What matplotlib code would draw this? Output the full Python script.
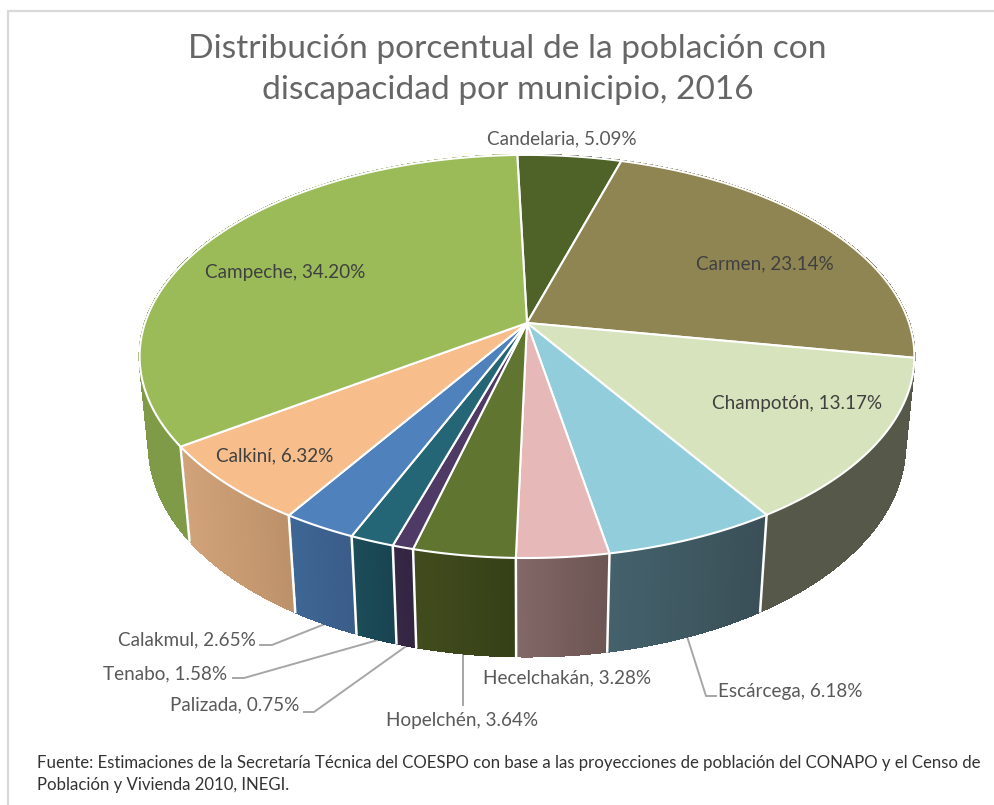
import numpy as np
import matplotlib
matplotlib.use('Agg')
import matplotlib.pyplot as plt
from matplotlib.collections import PolyCollection
from matplotlib.colors import to_rgb
from matplotlib.patches import Polygon

# Data, clockwise from the top of the pie
municipios = ['Candelaria', 'Carmen', 'Champotón', 'Escárcega', 'Hecelchakán',
              'Hopelchén', 'Palizada', 'Tenabo', 'Calakmul', 'Calkiní', 'Campeche']
valores = [5.09, 23.14, 13.17, 6.18, 3.28, 3.64, 0.75, 1.58, 2.65, 6.32, 34.20]
colores = ['#4F6228', '#8F8552', '#D7E3BC', '#92CDDC', '#E6B8B7', '#5F7530',
           '#4F3A66', '#246676', '#4F81BD', '#F7BD8B', '#9BBB59']
lado_izq = ['#3E4D20', '#6F6840', '#56584A', '#44626C', '#846868', '#414C1E',
            '#372845', '#1C4D59', '#3E6795', '#D2A37B', '#7F9B48']
lado_der = ['#3E4D20', '#6F6840', '#56584A', '#3A4F57', '#6C5553', '#364017',
            '#322542', '#184450', '#3A5C88', '#BC9169', '#7F9B48']

# Label text centres and leader lines (pixels)
etiquetas_pos = [(562, 139), (765, 264), (797, 403), (790, 691), (567, 678),
                 (462, 720), (235, 705), (165, 674), (187, 640), (275, 456), (285, 272)]
lineas = {'Calakmul': [(260, 645), (272, 645), (330, 622)],
          'Tenabo': [(233, 678), (244, 678), (385, 638)],
          'Palizada': [(304, 712), (314, 712), (412, 642)],
          'Hopelchén': [(463, 705), (463, 650)],
          'Escárcega': [(716, 696), (706, 696), (685, 630)]}

CX, CY = 527, 323
R, B, ALTO = 382, 196, 90
K, K_Z = 0.166, 0.024
INICIO = -1.7


def proyecta(t, z=0.0):
    # t in degrees clockwise from the back of the pie, z=1 is the bottom face
    a = np.radians(t)
    d = 1 + K * np.cos(a) + K_Z * z
    return CX + R * np.sin(a) / d, CY - (B * np.cos(a) - ALTO * z) / d


def arco(t0, t1, z=0.0):
    t = np.linspace(t0, t1, max(int(abs(t1 - t0) * 2), 2))
    x, y = proyecta(t, z)
    return np.column_stack([x, y])


fig = plt.figure(figsize=(9.94, 8.05), dpi=100)
ax = fig.add_axes([0, 0, 1, 1])
ax.set_xlim(0, 994)
ax.set_ylim(805, 0)
ax.axis('off')
plt.rcParams['font.family'] = ['Lato', 'DejaVu Sans']

# chart frame, open on the right
ax.plot([8, 8, 994], [805, 11, 11], color='#D9D9D9', lw=1.6)

for nombre, pts in lineas.items():
    xs, ys = zip(*pts)
    ax.plot(xs, ys, color='#A6A6A6', lw=1.4, zorder=1)

bordes = INICIO + np.concatenate([[0], np.cumsum(valores)]) * 3.6

# sides, back to front
quads, caras = [], []
for i in range(len(valores)):
    ts = np.arange(bordes[i], bordes[i + 1], 0.5)
    ts = np.append(ts, bordes[i + 1])
    x0, y0 = proyecta(ts, 0)
    x1, y1 = proyecta(ts, 1)
    c0, c1 = np.array(to_rgb(lado_izq[i])), np.array(to_rgb(lado_der[i]))
    f = (x0 - x0.min()) / (x0.max() - x0.min())
    for j in range(len(ts) - 1):
        quads.append([(x0[j], y0[j]), (x0[j + 1], y0[j + 1]), (x1[j + 1], y1[j + 1]), (x1[j], y1[j])])
        caras.append(tuple(c0 + (c1 - c0) * f[j]))
ax.add_collection(PolyCollection(quads, facecolors=caras, edgecolors=caras, linewidths=1.0,
                                 antialiaseds=False, zorder=2))

# white separators on the front of the side wall
for b in bordes:
    if 140 < (b % 360) < 260:
        x, y = proyecta(np.array([b, b]), np.array([0, 1]))
        ax.plot(x, y, color='white', lw=1.8, zorder=3)

# top face
for i, c in enumerate(colores):
    pts = np.vstack([[CX, CY], arco(bordes[i], bordes[i + 1])])
    ax.add_patch(Polygon(pts, closed=True, facecolor=c, edgecolor='white', lw=1.5, zorder=4, joinstyle='round'))

for i, nombre in enumerate(municipios):
    txt = f'{nombre}, {valores[i]:.2f}%'
    oscuro = nombre in ('Carmen', 'Champotón', 'Calkiní', 'Campeche')
    ax.text(*etiquetas_pos[i], txt, ha='center', va='center', fontsize=13.6,
            color='#404040' if oscuro else '#595959', zorder=6)

ax.text(507, 49, 'Distribución porcentual de la población con', ha='center', va='center',
        fontsize=24.1, color='#666666')
ax.text(508, 90, 'discapacidad por municipio, 2016', ha='center', va='center',
        fontsize=24.1, color='#666666')

ax.text(37, 763, 'Fuente: Estimaciones de la Secretaría Técnica del COESPO con base a las proyecciones de población del CONAPO y el Censo de',
        ha='left', va='center', fontsize=12.02, color='#333333')
ax.text(37, 785, 'Población y Vivienda 2010, INEGI.', ha='left', va='center', fontsize=12.02, color='#333333')

fig.savefig('out.png', dpi=100)
